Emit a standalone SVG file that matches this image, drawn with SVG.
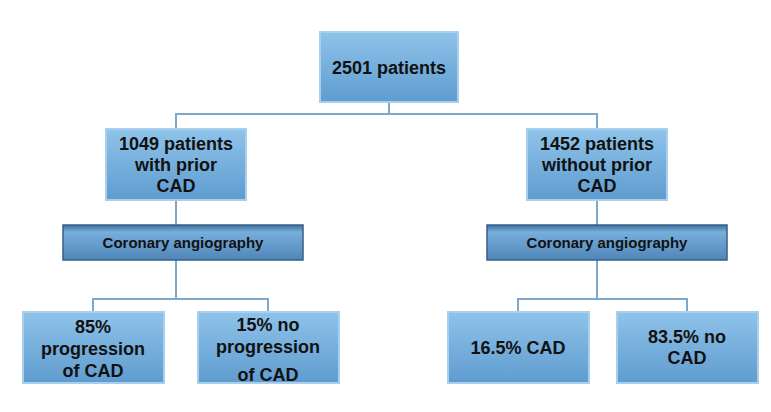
<svg xmlns="http://www.w3.org/2000/svg" width="771" height="412" viewBox="0 0 771 412">
<defs>
<linearGradient id="g" x1="0" y1="0" x2="0" y2="1"><stop offset="0" stop-color="#8fc3ea"/><stop offset="1" stop-color="#5f9ccf"/></linearGradient>
<linearGradient id="h" x1="0" y1="0" x2="0" y2="1"><stop offset="0" stop-color="#3d6f9c"/><stop offset="0.2" stop-color="#77aedb"/><stop offset="1" stop-color="#4f86b8"/></linearGradient>
<style>
.b{fill:url(#g);stroke:#a9cfee;stroke-width:2}
.c{fill:url(#h);stroke:#355f88;stroke-width:1.5}
text{font-family:"Liberation Sans",Arial,sans-serif;font-weight:bold;font-size:18px;fill:#111;text-anchor:middle}
.s{font-size:15px}
.l{fill:none;stroke:#7fa7c9;stroke-width:2}
</style>
</defs>
<rect width="771" height="412" fill="#fff"/>
<g id="connectors">
<path class="l" d="M389 102V114H176V129M389 114H597V129"/>
<path class="l" d="M176 200V225M597 200V225"/>
<path class="l" d="M176 260V299H93V312M176 299H268V312"/>
<path class="l" d="M597 260V299H518V312M597 299H687V312"/>
</g>
<g id="n0"><rect class="b" x="320" y="32" width="138" height="70"/><text x="389" y="74">2501 patients</text></g>
<g id="n1"><rect class="b" x="106" y="129" width="140" height="71"/><text x="176" y="150">1049 patients</text><text x="176" y="171">with prior</text><text x="176" y="192">CAD</text></g>
<g id="n2"><rect class="b" x="527" y="129" width="140" height="71"/><text x="597" y="150">1452 patients</text><text x="597" y="171">without prior</text><text x="597" y="192">CAD</text></g>
<g id="n3"><rect class="c" x="63" y="225" width="240" height="35"/><text class="s" x="183" y="248">Coronary angiography</text></g>
<g id="n4"><rect class="c" x="487" y="225" width="240" height="35"/><text class="s" x="607" y="248">Coronary angiography</text></g>
<g id="n5"><rect class="b" x="23" y="312" width="141" height="71"/><text x="93" y="333">85%</text><text x="93" y="355">progression</text><text x="93" y="377">of CAD</text></g>
<g id="n6"><rect class="b" x="198" y="312" width="141" height="71"/><text x="268" y="331">15% no</text><text x="268" y="353">progression</text><text x="268" y="381">of CAD</text></g>
<g id="n7"><rect class="b" x="448" y="312" width="141" height="71"/><text x="518" y="354">16.5% CAD</text></g>
<g id="n8"><rect class="b" x="617" y="312" width="141" height="71"/><text x="687" y="343">83.5% no</text><text x="687" y="364">CAD</text></g>
</svg>
